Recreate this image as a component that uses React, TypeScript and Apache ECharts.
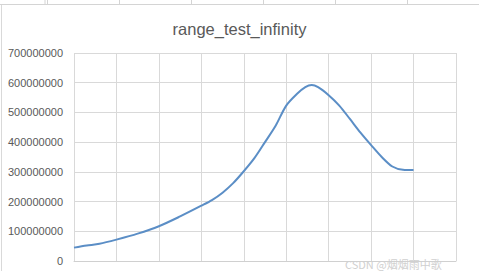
import React, { useEffect, useRef } from "react";
import * as echarts from "echarts";

const title = "range_test_infinity";
const xPositions = [0, 0.3, 0.6, 1, 1.5, 2, 2.5, 3, 3.25, 3.5, 3.75, 4, 4.25, 4.5, 4.75, 5, 5.25, 5.45, 5.6, 5.75, 6, 6.25, 6.5, 6.75, 7, 7.25, 7.5, 7.75, 8];
const values = [45e6, 52e6, 58e6, 72e6, 92e6, 117e6, 150e6, 186e6, 205e6, 230e6, 262e6, 302e6, 346e6, 400e6, 455e6, 523e6, 562e6, 585e6, 592e6, 585e6, 558e6, 523e6, 478e6, 432e6, 390e6, 350e6, 318e6, 307e6, 306e6];
const yTicks = [0, 100000000, 200000000, 300000000, 400000000, 500000000, 600000000, 700000000];
const watermark = "CSDN @烟烟雨中歌";

export default function App() {
  const ref = useRef<HTMLDivElement>(null);
  useEffect(() => {
    if (!ref.current) return;
    const chart = echarts.init(ref.current, null, { renderer: "svg" });
    const sheetX = [45, 47.5, 119.5, 191.5, 263.5, 335.5, 407.5];
    chart.setOption({
      animation: false,
      backgroundColor: "#ffffff",
      title: {
        text: title,
        left: "center",
        top: 15,
        textStyle: { color: "#595959", fontSize: 16.5, fontWeight: "normal", fontFamily: "Liberation Sans, Arial" },
      },
      grid: { left: 74, right: 23, top: 53, bottom: 10, containLabel: false },
      xAxis: {
        type: "value",
        min: 0,
        max: 9,
        interval: 1,
        axisLabel: { show: false },
        axisTick: { show: false },
        axisLine: { show: true, lineStyle: { color: "#d0d0d0", width: 1 } },
        splitLine: { show: true, lineStyle: { color: "#d9d9d9", width: 1 } },
      },
      yAxis: {
        type: "value",
        min: yTicks[0],
        max: yTicks[yTicks.length - 1],
        interval: 100000000,
        axisLine: { show: false },
        axisTick: { show: false },
        axisLabel: {
          color: "#595959",
          fontSize: 11,
          fontFamily: "Liberation Sans, Arial",
          margin: 11,
          formatter: (v: number) => String(v),
        },
        splitLine: { show: true, lineStyle: { color: "#d9d9d9", width: 1 } },
      },
      series: [
        {
          type: "line",
          data: xPositions.map((x, i) => [x, values[i]]),
          smooth: 0.3,
          symbol: "none",
          lineStyle: { color: "#5b8ec6", width: 2 },
        },
      ],
      graphic: [
        { type: "line", shape: { x1: 0, y1: 4.5, x2: 479, y2: 4.5 }, style: { stroke: "#d4d4d4", lineWidth: 1 } },
        ...sheetX.map((x) => ({ type: "line", shape: { x1: x, y1: 0, x2: x, y2: 4 }, style: { stroke: "#d4d4d4", lineWidth: 1 } })),
        { type: "line", shape: { x1: 1.5, y1: 5, x2: 1.5, y2: 271 }, style: { stroke: "#d9d9d9", lineWidth: 1 } },
        {
          type: "text",
          x: 345,
          y: 258,
          style: { text: watermark, fill: "#d0d0d0", fontSize: 11, fontFamily: "Noto Sans CJK SC, sans-serif" },
        },
      ],
    });
    return () => chart.dispose();
  }, []);
  return <div ref={ref} style={{ position: "absolute", left: 0, top: 0, width: 479, height: 271 }} />;
}
